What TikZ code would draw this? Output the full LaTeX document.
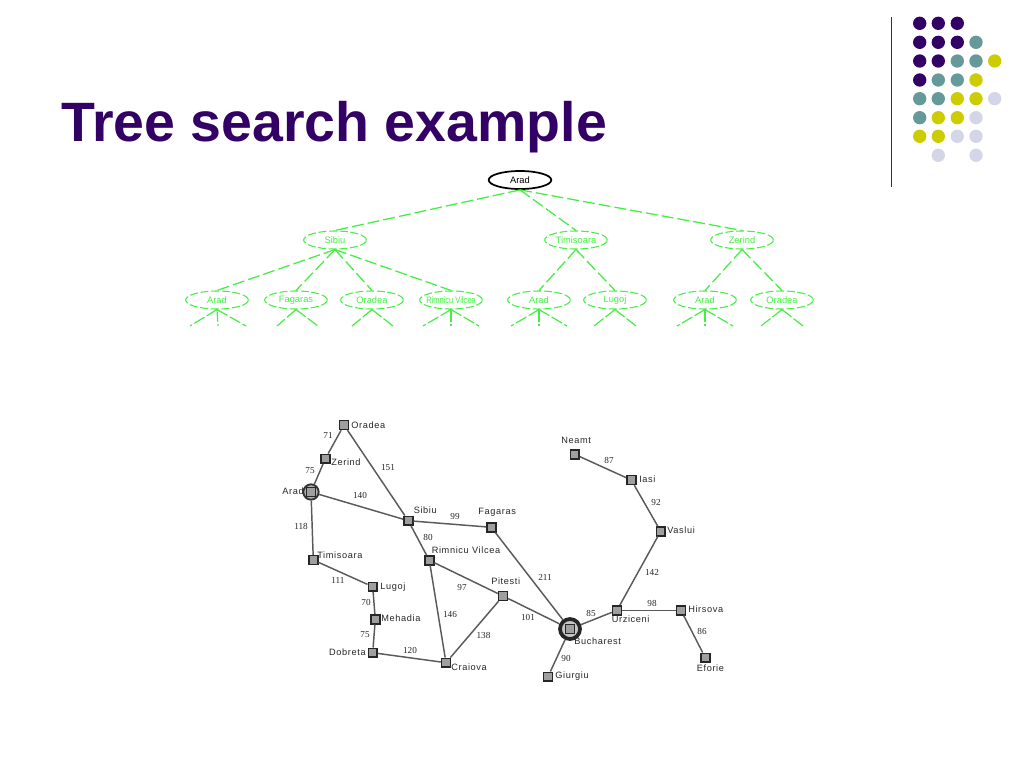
\documentclass[tikz,border=0pt]{standalone}
\usepackage{fontspec}
\setmainfont{Liberation Sans}
\newfontfamily\numfont{Liberation Serif}
\newfontfamily\spacedfont[LetterSpace=7]{Liberation Sans}
\usetikzlibrary{shapes.geometric}
\definecolor{tpurple}{HTML}{330066}
\definecolor{tteal}{HTML}{669999}
\definecolor{tyellow}{HTML}{CCCC00}
\definecolor{tlav}{HTML}{D5D5E8}
\definecolor{tgreen}{HTML}{44EE44}
\definecolor{edgegray}{HTML}{5A5A5A}
\tikzset{
  x=0.75pt,y=-0.75pt,
  dotp/.style={circle,inner sep=0pt,minimum size=10pt,draw=none},
  treeroot/.style={ellipse,draw=black,line width=1.3pt,minimum width=47pt,minimum height=13.5pt,inner sep=0pt,font=\fontsize{7}{8}\selectfont},
  treefut/.style={ellipse,draw=tgreen,dash pattern=on 6pt off 2pt,line width=0.8pt,minimum width=47pt,minimum height=13.5pt,inner sep=0pt,text=tgreen,font=\fontsize{7}{8}\selectfont},
  treeedge/.style={draw=tgreen,dash pattern=on 9pt off 3pt,line width=0.95pt},
  stub/.style={draw=tgreen,dash pattern=on 9pt off 2pt,line width=0.9pt},
  city/.style={rectangle,draw=black!85,fill=gray!75,line width=1.2pt,minimum size=6.6pt,inner sep=0pt},
  cityring/.style={circle,draw=black!80,line width=1.4pt,fill=gray!60,minimum size=11.5pt,inner sep=0pt},
  cityringb/.style={circle,draw=black!85,line width=2.8pt,fill=gray!45,minimum size=15pt,inner sep=0pt},
  road/.style={draw=edgegray,line width=1.1pt},
  cname/.style={inner sep=0pt,font=\spacedfont\fontsize{6.9}{8}\selectfont,text=black!85},
  dist/.style={inner sep=0pt,font=\numfont\fontsize{6.9}{8}\selectfont,text=black!85},
}
\begin{document}
\begin{tikzpicture}
\useasboundingbox (0,0) rectangle (1024,768);
% title
\node[anchor=base west,inner sep=0pt,text=tpurple,font=\bfseries\fontsize{41.6}{46}\selectfont] (title) at (61,141) {Tree search example};
% rule
\coordinate (ruleA) at (891.5,17);
\coordinate (ruleB) at (891.5,187);
\draw[line width=0.8pt,draw=black!80] (ruleA) -- (ruleB);
% dots
\foreach \cx/\cy/\cc [count=\i] in {
 919.7/23.3/tpurple,938.3/23.3/tpurple,957.3/23.3/tpurple,
 919.7/42.3/tpurple,938.3/42.3/tpurple,957.3/42.3/tpurple,976/42.3/tteal,
 919.7/61/tpurple,938.3/61/tpurple,957.3/61/tteal,976/61/tteal,994.7/61/tyellow,
 919.7/80/tpurple,938.3/80/tteal,957.3/80/tteal,976/80/tyellow,
 919.7/98.7/tteal,938.3/98.7/tteal,957.3/98.7/tyellow,976/98.7/tyellow,994.7/98.7/tlav,
 919.7/117.7/tteal,938.3/117.7/tyellow,957.3/117.7/tyellow,976/117.7/tlav,
 919.7/136.3/tyellow,938.3/136.3/tyellow,957.3/136.3/tlav,976/136.3/tlav,
 938.3/155.3/tlav,976/155.3/tlav}
 {\node[dotp,fill=\cc] (dot\i) at (\cx,\cy) {};}
% search tree
\node[treeroot] (tA) at (520,180) {Arad};
\node[treefut] (tS) at (335,240) {Sibiu};
\node[treefut] (tT) at (576,240) {Timisoara};
\node[treefut] (tZ) at (742,240) {Zerind};
\node[treefut] (sA) at (217,300) {Arad};
\node[treefut] (sF) at (296,300) {Fagaras};
\node[treefut] (sO) at (372,300) {Oradea};
\node[treefut] (sR) at (451,300) {\makebox[20pt]{\scalebox{0.8}[1]{Rimnicu Vilcea}}};
\node[treefut] (tuA) at (539,300) {Arad};
\node[treefut] (tuL) at (615,300) {Lugoj};
\node[treefut] (zA) at (705,300) {Arad};
\node[treefut] (zO) at (782,300) {Oradea};
\draw[treeedge] (tA.south) -- (tS.north);
\draw[treeedge] (tA.south) -- (tT.north);
\draw[treeedge] (tA.south) -- (tZ.north);
\foreach \a/\b in {tS/sA,tS/sF,tS/sO,tS/sR,tT/tuA,tT/tuL,tZ/zA,tZ/zO}
  \draw[treeedge] (\a.south) -- (\b.north);
\foreach \n/\px [count=\i] in {sA/190,sA/218,sA/246,sF/277,sF/318,sO/352,sO/393,sR/423,sR/451,sR/479,tuA/511,tuA/539,tuA/567,tuL/594,tuL/636,zA/677,zA/705,zA/733,zO/761,zO/803}{
  \coordinate (st\i) at (\px,326);
  \draw[stub] (\n.south) -- (st\i);
}
% map nodes
\node[cityring] (AradR) at (311,492) {};
\node[cityringb] (BuchR) at (570,629) {};
\node[city] (Oradea) at (344,425) {};
\node[city] (Zerind) at (325.3,458.7) {};
\node[city] (Arad) at (311,492) {};
\node[city] (Timisoara) at (313.3,560) {};
\node[city] (Lugoj) at (372.7,586.7) {};
\node[city] (Mehadia) at (375.3,619.3) {};
\node[city] (Dobreta) at (372.7,652.7) {};
\node[city] (Craiova) at (446,662.7) {};
\node[city] (Sibiu) at (408.3,520.7) {};
\node[city] (Rimnicu) at (429.3,560.3) {};
\node[city] (Fagaras) at (491.3,527.3) {};
\node[city] (Pitesti) at (503,596) {};
\node[city] (Bucharest) at (570,629) {};
\node[city] (Neamt) at (574.7,454.3) {};
\node[city] (Iasi) at (631.3,480) {};
\node[city] (Vaslui) at (660.7,531.3) {};
\node[city] (Urziceni) at (617,610.3) {};
\node[city] (Hirsova) at (681,610.3) {};
\node[city] (Eforie) at (705.3,657.7) {};
\node[city] (Giurgiu) at (548,676.7) {};
% roads
\foreach \a/\b in {Oradea/Zerind,Zerind/AradR,Oradea/Sibiu,AradR/Sibiu,AradR/Timisoara,Timisoara/Lugoj,Lugoj/Mehadia,Mehadia/Dobreta,Dobreta/Craiova,Sibiu/Fagaras,Sibiu/Rimnicu,Rimnicu/Craiova,Rimnicu/Pitesti,Pitesti/Craiova,Pitesti/BuchR,Fagaras/BuchR,BuchR/Giurgiu,BuchR/Urziceni,Urziceni/Vaslui,Urziceni/Hirsova,Hirsova/Eforie,Vaslui/Iasi,Iasi/Neamt}
  \draw[road] (\a) -- (\b);
% city labels
\node[cname,anchor=west] (lOradea) at (351,425) {Oradea};
\node[cname,anchor=west] (lZerind) at (331,462) {Zerind};
\node[cname,anchor=east] (lArad) at (304,491) {Arad};
\node[cname,anchor=west] (lTimisoara) at (317,555) {Timisoara};
\node[cname,anchor=west] (lLugoj) at (380,587) {Lugoj};
\node[cname,anchor=west] (lMehadia) at (381,618.5) {Mehadia};
\node[cname,anchor=east] (lDobreta) at (366,652) {Dobreta};
\node[cname,anchor=west] (lCraiova) at (451,667) {Craiova};
\node[cname,anchor=west] (lSibiu) at (413.5,510.5) {Sibiu};
\node[cname,anchor=west] (lRimnicu) at (431.5,550) {Rimnicu Vilcea};
\node[cname,anchor=west] (lFagaras) at (478,512.5) {Fagaras};
\node[cname,anchor=west] (lPitesti) at (491,581) {Pitesti};
\node[cname,anchor=west] (lBucharest) at (574,641.5) {Bucharest};
\node[cname,anchor=west] (lNeamt) at (561,440.5) {Neamt};
\node[cname,anchor=west] (lIasi) at (639,479) {Iasi};
\node[cname,anchor=west] (lVaslui) at (667,530.5) {Vaslui};
\node[cname,anchor=west] (lUrziceni) at (611.5,619.5) {Urziceni};
\node[cname,anchor=west] (lHirsova) at (688,609) {Hirsova};
\node[cname,anchor=west] (lEforie) at (696.5,668.5) {Eforie};
\node[cname,anchor=west] (lGiurgiu) at (555,676) {Giurgiu};
% distances
\foreach \px/\py/\t [count=\i] in {
 328/435/71, 310/471/75, 388/467/151, 360/495/140, 301/526/118,
 338/580/111, 366/602/70, 365/635/75, 410/650/120,
 455/516/99, 428/537/80, 462/587/97, 450/614/146, 483.5/635/138,
 545/577/211, 528/617/101, 591/613/85, 566/658/90,
 609/460/87, 656/502/92, 652/572/142, 652/603/98, 702/631/86}
 {\node[dist] (d\i) at (\px,\py) {\t};}
\end{tikzpicture}
\end{document}
